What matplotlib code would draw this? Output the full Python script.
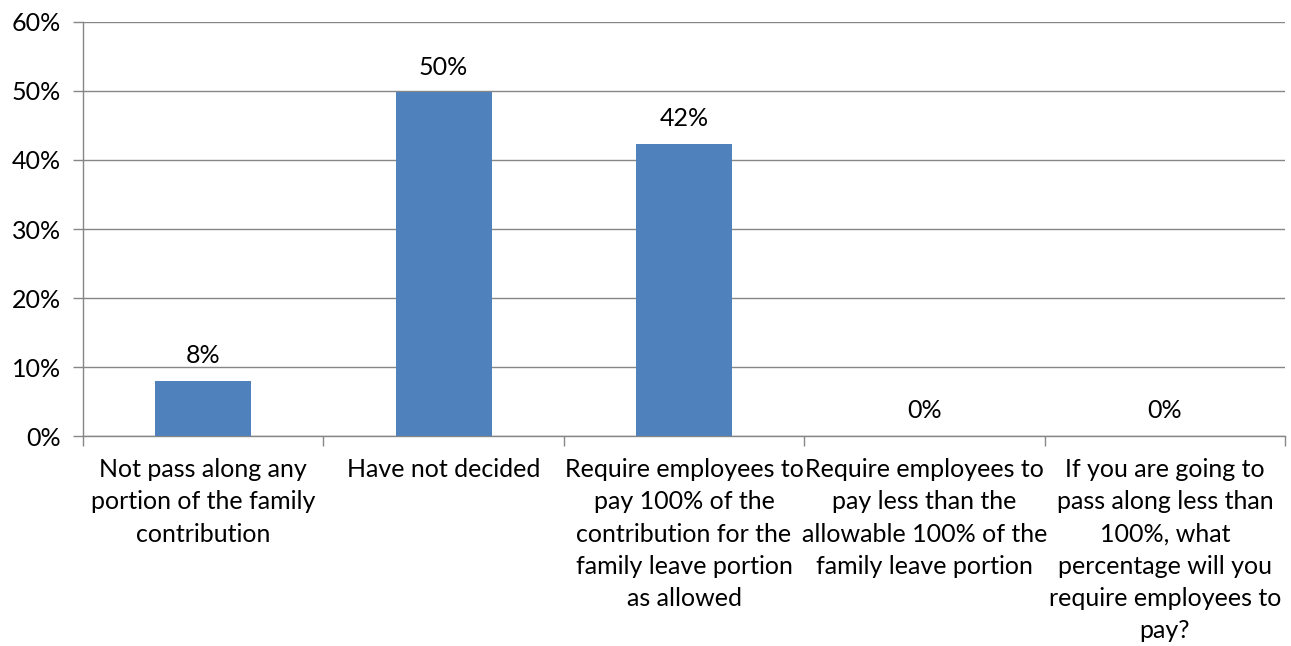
import numpy as np
import matplotlib
matplotlib.use('Agg')
import matplotlib.pyplot as plt
from matplotlib.ticker import PercentFormatter, FixedLocator

plt.rcParams['font.family'] = ['Lato', 'DejaVu Sans']

# dane
categories = [
    'Not pass along any\nportion of the family\ncontribution',
    'Have not decided',
    'Require employees to\npay 100% of the\ncontribution for the\nfamily leave portion\nas allowed',
    'Require employees to\npay less than the\nallowable 100% of the\nfamily leave portion',
    'If you are going to\npass along less than\n100%, what\npercentage will you\nrequire employees to\npay?',
]
values = [8.0, 49.8, 42.3, 0.0, 0.0]
value_labels = ['8%', '50%', '42%', '0%', '0%']

bar_color = '#4F81BD'
grid_color = '#868686'
fs = 18

fig = plt.figure(figsize=(12.91, 6.46), dpi=100)
ax = fig.add_axes([0.0643, 0.325, 0.9311, 0.641])

x = np.arange(len(categories))
ax.bar(x, values, width=0.4, color=bar_color, zorder=3)

for xi, v, lab in zip(x, values, value_labels):
    ax.text(xi, v + 2.0, lab, ha='center', va='bottom', fontsize=fs, color='black')

ax.set_xlim(-0.5, len(categories) - 0.5)
ax.set_ylim(0, 60)
ax.set_yticks(np.arange(0, 61, 10))
ax.yaxis.set_major_formatter(PercentFormatter(decimals=0))
ax.grid(axis='y', color=grid_color, linewidth=1, zorder=0)

ax.set_xticks(x)
ax.set_xticklabels(categories, fontsize=fs, linespacing=1.48)
ax.tick_params(axis='x', which='major', length=0, pad=16)
ax.xaxis.set_minor_locator(FixedLocator(np.arange(-0.5, len(categories), 1.0)))
ax.tick_params(axis='x', which='minor', length=7, color=grid_color, width=1)
ax.tick_params(axis='y', length=7, color=grid_color, width=1, labelsize=fs, pad=9)

for s in ['top', 'right']:
    ax.spines[s].set_visible(False)
for s in ['left', 'bottom']:
    ax.spines[s].set_color(grid_color)
    ax.spines[s].set_linewidth(1)

plt.savefig('out.png', dpi=100)
